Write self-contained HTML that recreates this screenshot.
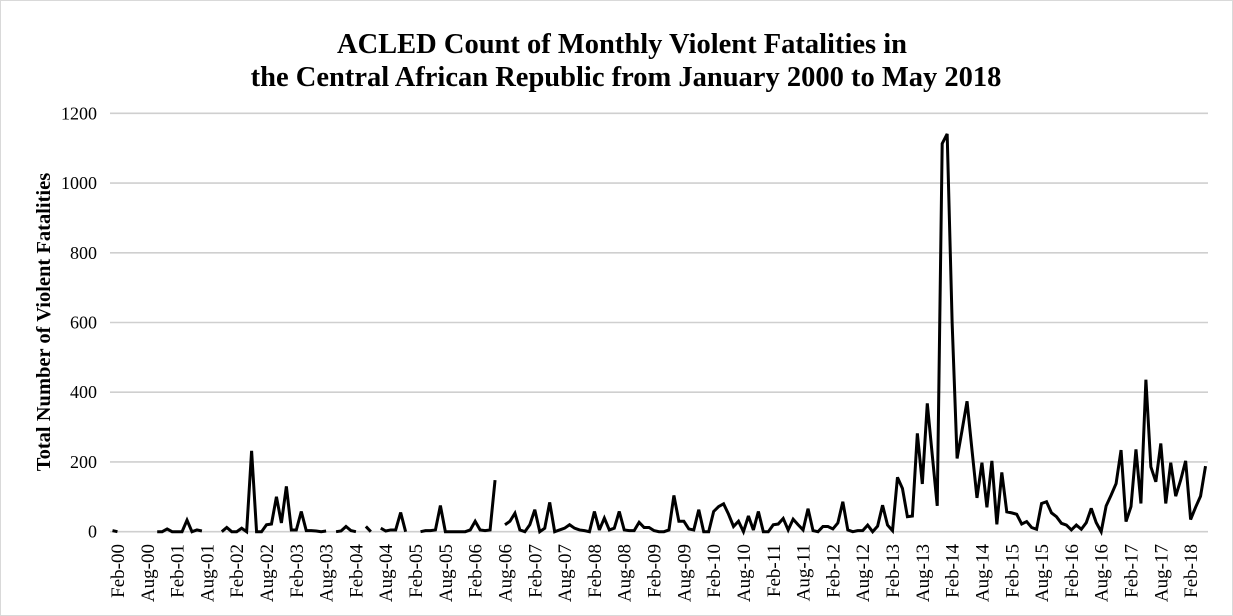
<!DOCTYPE html>
<html><head><meta charset="utf-8"><style>
html,body{margin:0;padding:0;background:#fff;}
#wrap{width:1233px;height:616px;position:relative;box-sizing:border-box;border:1px solid #d9d9d9;}
svg text{font-family:"Liberation Serif",serif;fill:#000;}
</style></head><body>
<div id="wrap">
<svg id="chart" width="1233" height="616" style="position:absolute;left:-1px;top:-1px">
<text x="622" y="53" text-anchor="middle" font-size="28.5" font-weight="bold">ACLED Count of Monthly Violent Fatalities in</text>
<text x="626" y="86" text-anchor="middle" font-size="28.5" font-weight="bold">the Central African Republic from January 2000 to May 2018</text>
<text transform="translate(50,322) rotate(-90)" text-anchor="middle" font-size="20.5" font-weight="bold">Total Number of Violent Fatalities</text>
<g id="grid"></g><g id="yticks"></g><g id="xticks"></g><g id="series"></g>
</svg>
</div>
<script>
const yTickValues=[0,200,400,600,800,1000,1200];
const fatalities=[3,0,null,null,null,null,null,null,null,0,0,8,0,0,0,33,0,5,2,null,null,null,0,12,0,0,10,0,232,0,0,20,22,100,25,130,5,5,58,3,3,2,0,2,null,0,2,15,3,0,null,15,0,null,10,2,5,5,55,0,null,null,0,3,3,5,75,0,0,0,0,0,5,30,5,3,5,148,null,20,30,53,5,0,20,63,0,10,84,0,5,10,20,10,5,3,0,58,5,39,5,10,58,5,3,3,27,12,12,3,0,0,5,104,30,30,8,5,63,0,0,58,72,80,50,15,30,0,45,5,58,0,0,20,22,38,5,36,20,5,66,3,0,15,15,8,25,86,5,0,3,3,19,0,16,76,19,3,156,124,43,45,282,137,368,220,74,1113,1141,600,210,291,374,234,97,198,70,203,21,170,57,54,50,22,29,12,7,81,86,54,43,24,19,5,19,7,26,67,26,0,74,105,138,234,29,72,236,81,436,186,143,253,81,198,102,148,203,35,70,102,188];
const monthNames=["Jan","Feb","Mar","Apr","May","Jun","Jul","Aug","Sep","Oct","Nov","Dec"];
const startYear=2000;
const NS="http://www.w3.org/2000/svg";
const L=110,R=1208,T=113.3,B=531.7,YMAX=1200;
const n=fatalities.length;
const step=(R-L)/n;
function xs(i){return L+step*(i+0.5);}
function ys(v){return B-(v/YMAX)*(B-T);}
function mk(tag,attrs,parent){const e=document.createElementNS(NS,tag);for(const k in attrs)e.setAttribute(k,attrs[k]);parent.appendChild(e);return e;}
const grid=document.getElementById('grid'),yt=document.getElementById('yticks'),xt=document.getElementById('xticks'),ser=document.getElementById('series');
yTickValues.forEach(v=>{
  const ln=mk('line',{x1:L,x2:R,y1:ys(v),y2:ys(v),stroke:'#cfcfcf','stroke-width':1.6},grid);
  
  
  const t=mk('text',{x:97,y:ys(v)+6,'text-anchor':'end','font-size':18},yt);
  t.textContent=v;
  
  
});
for(let i=1;i<n;i+=6){
  const m=i%12,yr=startYear+Math.floor(i/12);
  const lab=monthNames[m]+'-'+String(yr%100).padStart(2,'0');
  const t=mk('text',{transform:'translate('+(xs(i)+6.5)+',544) rotate(-90)','text-anchor':'end','font-size':19},xt);
  t.textContent=lab;
  
  
}
let segs=[],cur=[];
fatalities.forEach((v,i)=>{if(v===null){if(cur.length)segs.push(cur);cur=[];}else cur.push([xs(i),ys(v)]);});
if(cur.length)segs.push(cur);
segs.forEach((s,k)=>{
  const p=mk('polyline',{points:s.map(q=>q[0].toFixed(2)+','+q[1].toFixed(2)).join(' '),fill:'none',stroke:'#000','stroke-width':3,'stroke-linejoin':'miter','stroke-miterlimit':3},ser);
  
  
});
</script>
</body></html>
